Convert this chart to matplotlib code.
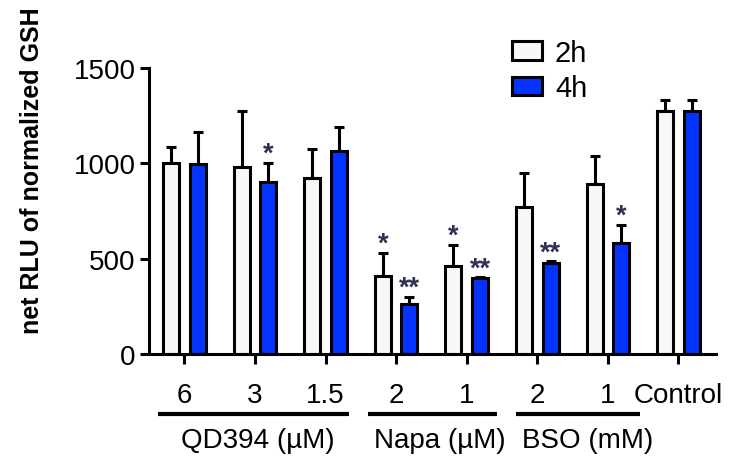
import numpy as np
import matplotlib
matplotlib.use("Agg")
import matplotlib.pyplot as plt
import matplotlib.transforms as mtransforms

plt.rcParams['font.family'] = ['Liberation Sans', 'DejaVu Sans']

# values
tick_labels = ['6', '3', '1.5', '2', '1', '2', '1', 'Control']
mean_2h = [1000, 980, 923, 409, 461, 771, 894, 1273]
sd_2h = [88, 292, 153, 123, 111, 179, 145, 59]
mean_4h = [997, 901, 1064, 265, 398, 479, 584, 1273]
sd_4h = [166, 101, 126, 35, 4, 7, 93, 59]
stars_2h = ['', '', '', '*', '*', '', '', '']
stars_4h = ['', '*', '', '**', '**', '**', '*', '']

groups = ['QD394 (µM)', 'Napa (µM)', 'BSO (mM)']
group_spans = [(-0.37, 2.33), (2.60, 4.43), (4.70, 6.46)]
group_text_x = [1.04, 3.62, 5.71]

col_2h = '#f8f8f8'
col_4h = '#0433ff'
star_col = '#2e3356'

x = np.arange(len(tick_labels))
w = 0.227
off = 0.188

fig = plt.figure(figsize=(7.32, 4.6), dpi=100)
ax = fig.add_axes([0.204, 0.228, 0.774, 0.622])

bars = []
for xs, m, s, c in [(x - off, mean_2h, sd_2h, col_2h), (x + off, mean_4h, sd_4h, col_4h)]:
    ax.errorbar(xs, m, yerr=[np.zeros(len(m)), s], fmt='none', ecolor='black',
                elinewidth=2.2, capsize=3.3, capthick=2.2, zorder=1)
    bars.append(ax.bar(xs, m, width=w, color=c, edgecolor='black', linewidth=2.2, zorder=2))

# significance stars just above the error caps
for xs, m, s, st in [(x - off, mean_2h, sd_2h, stars_2h), (x + off, mean_4h, sd_4h, stars_4h)]:
    for xi, mi, si, t in zip(xs, m, s, st):
        if t:
            ax.annotate(t, (xi, mi + si), xytext=(0, 1.5), textcoords='offset points',
                        ha='center', va='baseline', fontsize=19.5, fontweight='bold',
                        color=star_col)

ax.set_xlim(-0.496, 7.53)
ax.set_ylim(0, 1500)
ax.set_yticks([0, 500, 1000, 1500])
ax.set_xticks(x)
ax.set_xticklabels(tick_labels)
ax.tick_params(axis='x', length=7, width=2.2, pad=13, labelsize=20)
ax.tick_params(axis='y', length=6.5, width=2.2, pad=3.5, labelsize=20)
for sp in ['top', 'right']:
    ax.spines[sp].set_visible(False)
for sp in ['left', 'bottom']:
    ax.spines[sp].set_linewidth(2.2)

trans = mtransforms.blended_transform_factory(ax.transData, ax.transAxes)
for name, (a, b), tx in zip(groups, group_spans, group_text_x):
    ax.plot([a, b], [-0.21, -0.21], color='black', lw=3, transform=trans,
            clip_on=False, solid_capstyle='butt')
    ax.text(tx, -0.30, name, transform=trans, ha='center', va='center', fontsize=20)

fig.text(32 / 732, 1 - 171 / 460, 'net RLU of normalized GSH', rotation=90,
         ha='center', va='center', fontsize=18, fontweight='bold')

leg = ax.legend(bars, ['2h', '4h'], loc='upper left', bbox_to_anchor=(512 / 732, 1 - 40 / 460),
                bbox_transform=fig.transFigure, frameon=False, fontsize=21,
                handlelength=1.02, handleheight=0.6, handletextpad=0.45,
                labelspacing=0.25, borderpad=0, borderaxespad=0)

fig.savefig('out.png', dpi=100)
